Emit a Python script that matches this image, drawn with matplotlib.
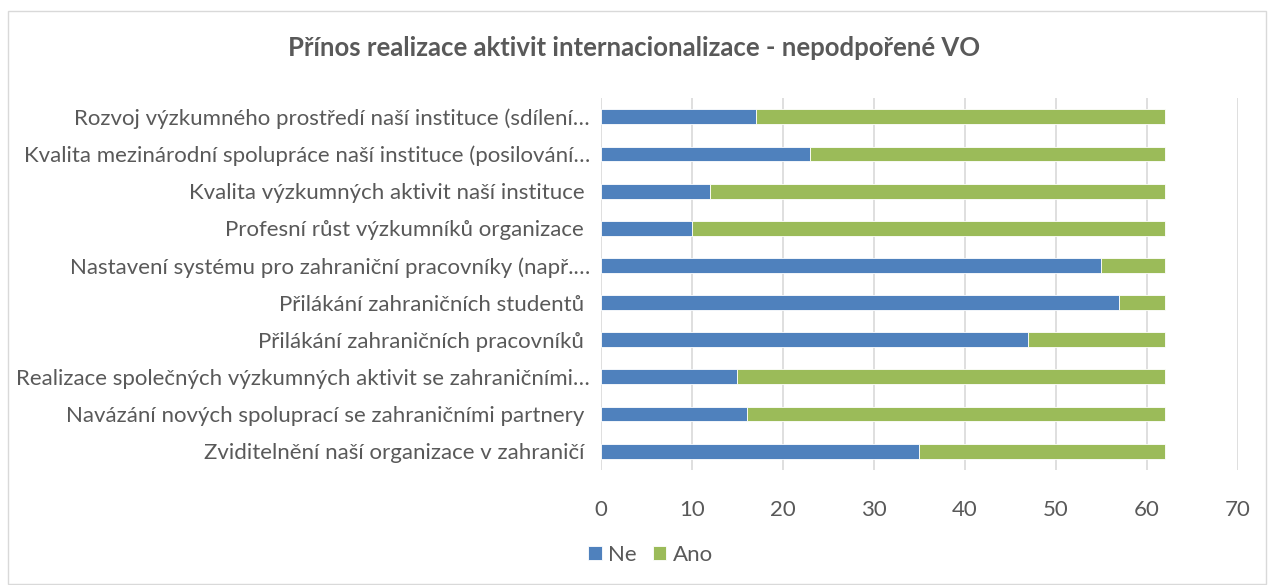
import matplotlib
matplotlib.use("Agg")
import matplotlib.pyplot as plt
from matplotlib.patches import Rectangle

categories = [
    "Zviditelnění naší organizace v zahraničí ",
    "Navázání nových spoluprací se zahraničními partnery ",
    "Realizace společných výzkumných aktivit se zahraničními…",
    "Přilákání zahraničních pracovníků ",
    "Přilákání zahraničních studentů ",
    "Nastavení systému pro zahraniční pracovníky (např.…",
    "Profesní růst výzkumníků organizace ",
    "Kvalita výzkumných aktivit naší instituce ",
    "Kvalita mezinárodní spolupráce naší instituce (posilování…",
    "Rozvoj výzkumného prostředí naší instituce (sdílení…",
]
ne = [35, 16, 15, 47, 57, 55, 10, 12, 23, 17]
ano = [27, 46, 47, 15, 5, 7, 52, 50, 39, 45]
series_names = ["Ne", "Ano"]
title = "Přínos realizace aktivit internacionalizace - nepodpořené VO"
xticks = [0, 10, 20, 30, 40, 50, 60, 70]

plt.rcParams['font.family'] = ['Lato', 'DejaVu Sans']
text_color = "#595959"

fig = plt.figure(figsize=(12.68, 5.85), dpi=100)
ax = fig.add_axes([0.474, 0.197, 0.502, 0.635])

y = list(range(len(categories)))
ax.barh(y, ne, height=0.4, color="#4F81BD", edgecolor="white", linewidth=0.6, label=series_names[0], zorder=3)
ax.barh(y, ano, left=ne, height=0.4, color="#9BBB59", edgecolor="white", linewidth=0.6, label=series_names[1], zorder=3)

ax.set_xlim(0, 70)
ax.set_ylim(-0.5, len(categories) - 0.5)
ax.set_xticks(xticks)
ax.set_yticks(y)
ax.set_yticklabels(categories, fontsize=16, color=text_color)
ax.tick_params(axis='x', labelsize=16, colors=text_color, length=0, pad=22)
ax.tick_params(axis='y', length=0, pad=8)
ax.grid(axis='x', color="#D9D9D9", linewidth=1.2, zorder=0)
for s in ax.spines.values():
    s.set_visible(False)

fig.text(0.5, 1 - 48 / 585, title, ha='center', va='center', fontsize=18.5,
         fontweight='bold', color=text_color)

handles, labels = ax.get_legend_handles_labels()
fig.legend(handles, labels, loc='center', bbox_to_anchor=(0.513, 1 - 555 / 585), ncol=2,
           frameon=False, fontsize=16, handlelength=0.6, handleheight=0.6,
           handletextpad=0.3, columnspacing=0.7, labelcolor=text_color)

fig.patches.append(Rectangle((8 / 1268, 0.002), 1 - 10 / 1268, 1 - 12 / 585,
                             transform=fig.transFigure, fill=False,
                             edgecolor="#D9D9D9", linewidth=1))

fig.savefig("out.png", dpi=100, facecolor="white")
